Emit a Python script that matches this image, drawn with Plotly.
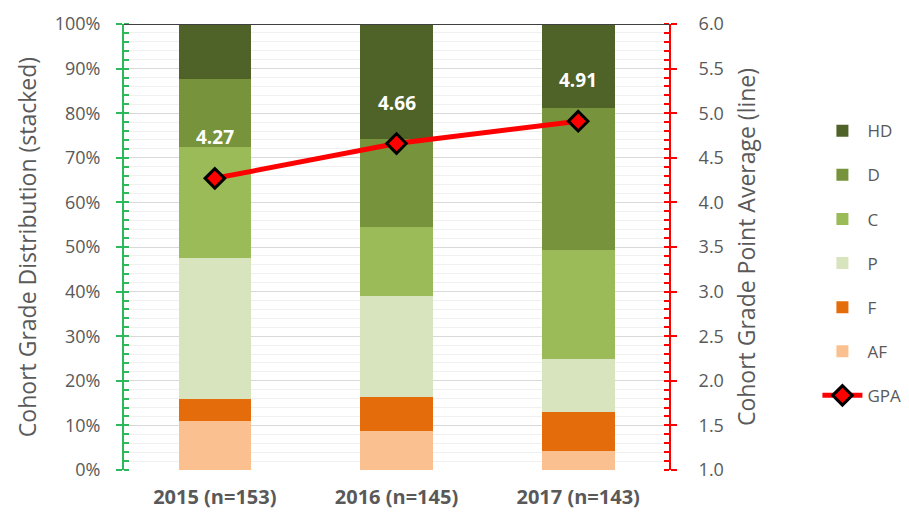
import plotly.graph_objects as go

# cohorts on the x axis
cohorts = ["2015 (n=153)", "2016 (n=145)", "2017 (n=143)"]

# grade shares per cohort (fraction of cohort), stacked bottom to top
grade_af = [0.109, 0.087, 0.043]
grade_f = [0.051, 0.076, 0.087]
grade_p = [0.316, 0.227, 0.119]
grade_c = [0.248, 0.155, 0.245]
grade_d = [0.152, 0.198, 0.317]
grade_hd = [0.124, 0.257, 0.189]

# cohort grade point average (right axis)
gpa = [4.27, 4.66, 4.91]

grey = "#595959"
font_family = "'Open Sans', Lato, sans-serif"

stack = [
    ("AF", grade_af, "#fac090", 6),
    ("F", grade_f, "#e46c0a", 5),
    ("P", grade_p, "#d7e4bd", 4),
    ("C", grade_c, "#9bbb59", 3),
    ("D", grade_d, "#77933c", 2),
    ("HD", grade_hd, "#4f6228", 1),
]

fig = go.Figure()

for name, vals, color, rank in stack:
    fig.add_trace(go.Bar(
        x=cohorts, y=vals, name=name,
        marker=dict(color=color, line=dict(width=0)),
        width=0.4, legendrank=rank, legendgroup=name,
        hovertemplate="%{x}<br>" + name + ": %{y:.1%}<extra></extra>",
    ))

fig.add_trace(go.Scatter(
    x=cohorts, y=gpa, name="GPA", yaxis="y2",
    mode="lines+markers",
    line=dict(color="#ff0000", width=5),
    marker=dict(symbol="diamond", size=15, color="#ff0000",
                line=dict(color="black", width=3)),
    legendrank=7, legendgroup="GPA",
))

# white bold GPA labels above the markers
for c, g in zip(cohorts, gpa):
    fig.add_annotation(
        x=c, y=g, xref="x", yref="y2", text=f"<b>{g:.2f}</b>",
        showarrow=False, yshift=41,
        font=dict(color="white", size=19, family=font_family),
    )

# dark line along the top of the plot area
fig.add_hline(y=1, line=dict(color="#404040", width=2))

fig.update_layout(
    barmode="stack",
    width=909, height=515,
    margin=dict(l=116, r=247, t=16, b=53),
    plot_bgcolor="white", paper_bgcolor="white",
    font=dict(family=font_family, color=grey, size=17),
    legend=dict(
        x=1.27, xanchor="left", y=0.80, yanchor="top",
        tracegroupgap=19, font=dict(size=17, color=grey),
        itemwidth=40,
    ),
    xaxis=dict(
        showgrid=False, ticks="", showline=False, automargin=False,
        tickfont=dict(size=20, color=grey, family=font_family, weight="bold"),
        ticklabelstandoff=13,
    ),
    yaxis=dict(
        range=[0, 1], dtick=0.1, tickformat=".0%", automargin=False,
        showgrid=True, gridcolor="#d9d9d9", gridwidth=1,
        showline=True, linecolor="#2eb85c", linewidth=2,
        ticks="outside", ticklen=6, tickcolor="#2eb85c", tickwidth=2,
        ticklabelstandoff=12, tickfont=dict(size=18),
        minor=dict(dtick=0.02, ticks="inside", ticklen=5, tickcolor="#2eb85c",
                   showgrid=True, gridcolor="#f0f0f0", gridwidth=1),
        title=dict(text="Cohort Grade Distribution (stacked)",
                   font=dict(size=23, color=grey), standoff=12),
        zeroline=False,
    ),
    yaxis2=dict(
        range=[1, 6], dtick=0.5, tickformat=".1f", automargin=False,
        overlaying="y", side="right", showgrid=False,
        showline=True, linecolor="#ff0000", linewidth=2,
        ticks="outside", ticklen=6, tickcolor="#ff0000", tickwidth=2,
        ticklabelstandoff=18, tickfont=dict(size=18),
        minor=dict(dtick=0.1, ticks="inside", ticklen=5, tickcolor="#ff0000"),
        title=dict(text="Cohort Grade Point Average (line)",
                   font=dict(size=23, color=grey), standoff=16),
        zeroline=False,
    ),
)

fig.write_html("out.html")
